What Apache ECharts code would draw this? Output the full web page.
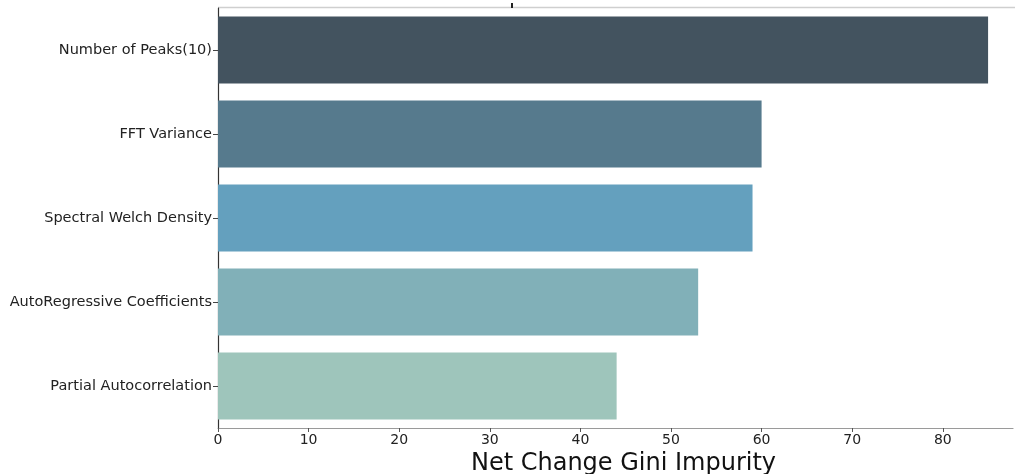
<!DOCTYPE html>
<html>
<head>
<meta charset="utf-8">
<script src="https://cdn.jsdelivr.net/npm/echarts@6/dist/echarts.min.js"></script>
<style>
  html, body { margin: 0; padding: 0; background: #fff; }
  #chart { width: 1015px; height: 474px; }
</style>
</head>
<body>
<div id="chart"></div>
<script>
// Feature importance by net change in Gini impurity
const categories = [
  'Number of Peaks(10)',
  'FFT Variance',
  'Spectral Welch Density',
  'AutoRegressive Coefficients',
  'Partial Autocorrelation'
];
const values = [85, 60, 59, 53, 44];
const barColors = ['#43535f', '#567a8d', '#64a0be', '#81b0b8', '#9ec5bb'];
const xTicks = [0, 10, 20, 30, 40, 50, 60, 70, 80];
const xTitle = 'Net Change Gini Impurity';

const chart = echarts.init(document.getElementById('chart'), null, { renderer: 'canvas' });

const font = 'DejaVu Sans';

chart.setOption({
  animation: false,
  backgroundColor: '#ffffff',
  grid: {
    left: 218, right: 2, top: 8, bottom: 46,
    containLabel: false, outerBoundsMode: 'none'
  },
  xAxis: {
    type: 'value',
    min: 0,
    max: 87.75,
    interval: 10,
    position: 'bottom',
    axisLine: { show: true, lineStyle: { color: '#9a9a9a', width: 1.2 } },
    axisTick: {
      show: true, length: 4, lineStyle: { color: '#555' },
      customValues: xTicks
    },
    axisLabel: {
      color: '#222', fontFamily: font, fontSize: 14, margin: 5,
      customValues: xTicks
    },
    splitLine: { show: false },
    name: xTitle,
    nameLocation: 'middle',
    nameGap: 18,
    nameTextStyle: {
      color: '#111', fontFamily: font, fontSize: 24, verticalAlign: 'top',
      padding: [0, 0, 0, 16]
    }
  },
  yAxis: {
    type: 'category',
    data: categories,
    inverse: true,
    axisLine: { show: true, lineStyle: { color: '#333', width: 1.2 } },
    axisTick: { show: true, alignWithLabel: true, length: 5, lineStyle: { color: '#444' } },
    axisLabel: { color: '#222', fontFamily: font, fontSize: 14.5, margin: 6, padding: [3, 0, 0, 0] },
    splitLine: { show: false }
  },
  series: [{
    type: 'bar',
    barWidth: '80%',
    data: values.map((v, i) => ({ value: v, itemStyle: { color: barColors[i] } })),
    label: { show: false }
  }],
  graphic: [
    // top spine
    {
      type: 'line',
      shape: { x1: 218, y1: 7.5, x2: 1015, y2: 7.5 },
      style: { stroke: '#cfcfcf', lineWidth: 1.5 },
      silent: true
    },
    // small stray mark above the plot
    {
      type: 'rect',
      shape: { x: 511, y: 3, width: 2, height: 5 },
      style: { fill: '#222' },
      silent: true
    }
  ]
});
</script>
</body>
</html>
